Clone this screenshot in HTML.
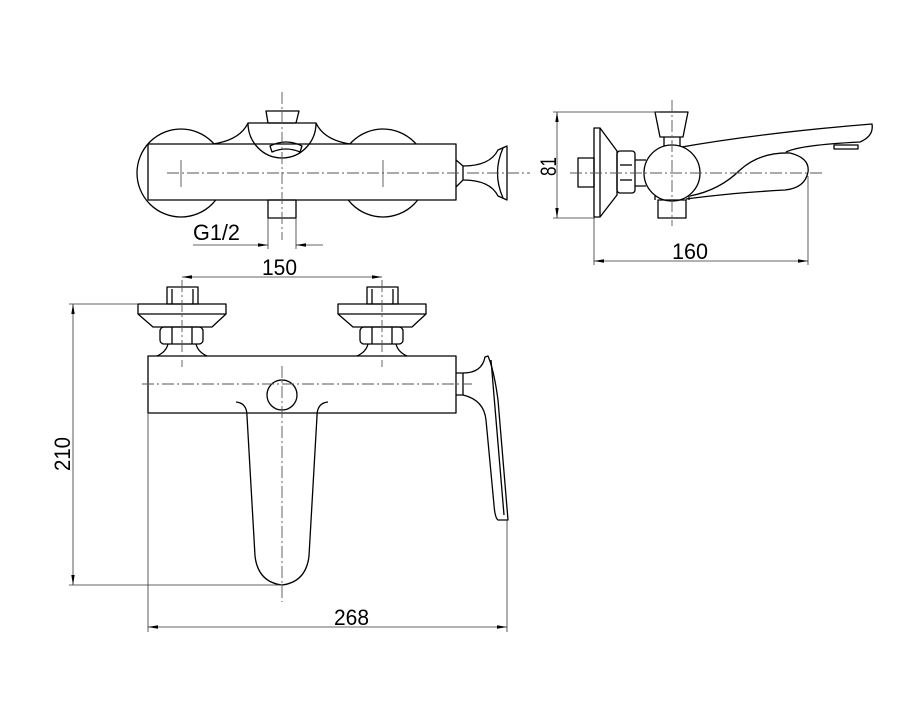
<!DOCTYPE html>
<html><head><meta charset="utf-8"><style>html,body{margin:0;padding:0;background:#fff}svg{display:block}</style></head>
<body>
<svg width="900" height="720" viewBox="0 0 900 720" xmlns="http://www.w3.org/2000/svg">
<defs>
<marker id="a" viewBox="0 0 10 4" refX="10" refY="2" markerWidth="10" markerHeight="4" orient="auto-start-reverse" markerUnits="userSpaceOnUse"><path d="M0,0.3 L10,2 L0,3.7z" fill="#000"/></marker>
</defs>
<g fill="none" stroke="#000" stroke-width="1.3" stroke-linejoin="round">
<!-- TOP VIEW -->
<circle cx="181" cy="173" r="44"/>
<circle cx="383" cy="173" r="44"/>
<path d="M213,144 Q240,140 248,123 L316,123 Q324,140 350,144" fill="#fff"/>
<rect x="148" y="144" width="308" height="56" fill="#fff"/>
<path d="M248,123 A34,35 0 0 0 316,123"/>
<path d="M270,146 Q286,138 302,146 L300,152 Q286,146 272,152 Z"/>
<path d="M266,111 L299,111 L296,123 L268,123 Z"/>
<rect x="268" y="200" width="28" height="18"/>
<path d="M456,160 L463,166 L463,180 L456,187"/>
<path d="M463,166 Q490,166 498,150 L507,146 L507,200 L498,196 Q490,180 463,180"/>
<path d="M503,148 Q492,173 503,198"/>
<!-- SIDE VIEW -->
<rect x="594" y="128" width="6" height="89"/>
<path d="M600,128 L617,151 L617,195 L600,217"/>
<rect x="578" y="158" width="16" height="29"/>
<rect x="617" y="151" width="18" height="42" rx="3"/>
<line x1="620" y1="165" x2="632" y2="165"/><line x1="620" y1="180" x2="632" y2="180"/>
<path d="M635,160 L646,160 M635,186 L646,186"/>
<path d="M655,112 L688,112 L683,137 L660,137 Z"/>
<path d="M664,137 L664,148 M680,137 L680,148"/>
<path d="M676,148 Q760,133 872,124 Q874,136 860,142 Q800,145 786,152"/>
<rect x="834" y="145" width="24" height="4"/>
<path d="M690,196 Q720,190 740,170 Q760,152 790,153 Q810,158 808,172 Q805,188 785,190 Q730,193 686,199"/>
<circle cx="672" cy="173" r="28" fill="#fff"/>
<rect x="658" y="200" width="28" height="18"/>
<path d="M655,200 L655,195 M689,200 L689,195"/>
<!-- FRONT VIEW -->
<rect x="148" y="356" width="308" height="57"/>
<g id="v">
<rect x="167" y="287" width="31" height="17"/>
<line x1="172" y1="289" x2="172" y2="304"/><line x1="193" y1="289" x2="193" y2="304"/>
<rect x="138" y="304" width="88" height="10"/>
<path d="M138,314 L153,327 L212,327 L226,314"/>
<rect x="160" y="327" width="43" height="17" rx="4"/>
<line x1="172" y1="327" x2="172" y2="344"/><line x1="192" y1="327" x2="192" y2="344"/>
<path d="M157,356 Q166,352 168,344 M207,356 Q198,352 196,344"/>
</g>
<use href="#v" x="200"/>
<circle cx="282" cy="395" r="15"/>
<path d="M236,402 Q247,403 247,416 L255,556 Q258,582 282,585 Q306,582 309,556 L317,416 Q317,403 328,402"/>
<path d="M456,373 L463,373 L463,395 L456,395"/>
<path d="M463,373 Q482,373 485,357 L488,356 Q494,370 498,400 L508,520 L498,520 Q495,518 494,505 L486,420 Q484,400 463,395"/>
<path d="M491,360 L504,515"/>
</g>
<!-- centerlines -->
<g fill="none" stroke="#555" stroke-width="0.9" stroke-dasharray="12,3,2,3">
<line x1="167" y1="173" x2="530" y2="173"/>
<line x1="282" y1="92" x2="282" y2="240"/>
<line x1="570" y1="173" x2="822" y2="173"/>
<line x1="672" y1="100" x2="672" y2="226"/>
<line x1="142" y1="384" x2="472" y2="384"/>
<line x1="282" y1="366" x2="282" y2="602"/>
<line x1="182" y1="280" x2="182" y2="367"/>
<line x1="382" y1="280" x2="382" y2="367"/>
</g>
<g stroke="#555" stroke-width="0.9"><line x1="181" y1="160" x2="181" y2="187"/><line x1="383" y1="160" x2="383" y2="187"/></g>
<!-- dimensions -->
<g fill="none" stroke="#333" stroke-width="0.8">
<line x1="268" y1="218" x2="268" y2="249"/><line x1="296" y1="218" x2="296" y2="249"/>
<line x1="193" y1="245" x2="268" y2="245" marker-end="url(#a)"/>
<line x1="296" y1="245" x2="323" y2="245" marker-start="url(#a)"/>
<line x1="182" y1="277" x2="382" y2="277" marker-start="url(#a)" marker-end="url(#a)"/>
<line x1="553" y1="112" x2="660" y2="112"/><line x1="553" y1="218" x2="595" y2="218"/>
<line x1="557" y1="112" x2="557" y2="218" marker-start="url(#a)" marker-end="url(#a)"/>
<line x1="594" y1="217" x2="594" y2="265"/><line x1="808" y1="176" x2="808" y2="265"/>
<line x1="594" y1="261" x2="808" y2="261" marker-start="url(#a)" marker-end="url(#a)"/>
<line x1="69" y1="304" x2="138" y2="304"/><line x1="69" y1="585" x2="282" y2="585"/>
<line x1="73" y1="304" x2="73" y2="585" marker-start="url(#a)" marker-end="url(#a)"/>
<line x1="148" y1="413" x2="148" y2="632"/><line x1="507" y1="520" x2="507" y2="632"/>
<line x1="148" y1="627" x2="507" y2="627" marker-start="url(#a)" marker-end="url(#a)"/>
</g>
<g font-family="Liberation Sans, sans-serif" font-size="22" fill="#000">
<text x="193" y="240" textLength="47" lengthAdjust="spacingAndGlyphs">G1/2</text>
<text x="262" y="275" textLength="35" lengthAdjust="spacingAndGlyphs">150</text>
<text x="672" y="259" textLength="36" lengthAdjust="spacingAndGlyphs">160</text>
<text x="334" y="625" textLength="35" lengthAdjust="spacingAndGlyphs">268</text>
<text transform="translate(556,176) rotate(-90)" textLength="19" lengthAdjust="spacingAndGlyphs">81</text>
<text transform="translate(70,471) rotate(-90)" textLength="34" lengthAdjust="spacingAndGlyphs">210</text>
</g>
</svg>
</body></html>
